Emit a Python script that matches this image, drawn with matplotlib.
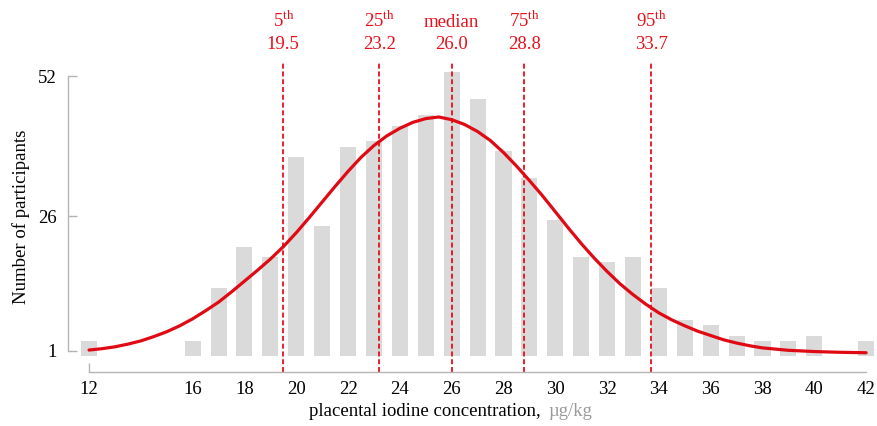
import numpy as np
import matplotlib
matplotlib.use("Agg")
import matplotlib.pyplot as plt

plt.rcParams['font.family'] = ['Liberation Serif', 'DejaVu Serif']
plt.rcParams['mathtext.fontset'] = 'custom'
plt.rcParams['mathtext.rm'] = 'Liberation Serif'
plt.rcParams['lines.scale_dashes'] = False

# histogram of placental iodine (µg/kg), counts
binCenters = [12, 16, 17, 18, 19, 20, 21, 22, 23, 24, 25, 26, 27, 28, 29,
              30, 31, 32, 33, 34, 35, 36, 37, 38, 39, 40, 42]
counts = [2.8, 2.8, 12.6, 20.3, 18.3, 37.0, 24.2, 38.9, 40.0, 42.8, 44.8, 52.7, 47.8, 38.0, 33.0,
          25.3, 18.3, 17.4, 18.3, 12.6, 6.7, 5.8, 3.7, 2.8, 2.8, 3.7, 2.8]

# fitted curve
curveX = [12, 12.5, 13, 13.5, 14, 14.5, 15, 15.5, 16, 16.5, 17, 17.5, 18, 18.5, 19, 19.5, 20,
          20.5, 21, 21.5, 22, 22.5, 23, 23.5, 24, 24.5, 25, 25.5, 26, 26.5, 27, 27.5, 28, 28.5,
          29, 29.5, 30, 30.5, 31, 31.5, 32, 32.5, 33, 33.5, 34, 34.5, 35, 35.5, 36, 36.5, 37,
          37.5, 38, 39, 40, 41, 42]
curveY = [1.1, 1.35, 1.7, 2.2, 2.8, 3.6, 4.5, 5.6, 6.9, 8.4, 10.0, 11.9, 13.9, 15.9, 18.0, 20.3, 22.9,
          25.7, 28.6, 31.5, 34.3, 36.9, 39.1, 40.9, 42.3, 43.4, 44.1, 44.4, 43.9, 43.0, 41.7, 40.0, 37.8, 35.3,
          32.6, 29.8, 26.8, 23.8, 20.9, 18.2, 15.7, 13.4, 11.4, 9.6, 8.0, 6.7, 5.6, 4.6, 3.8, 3.0, 2.4,
          1.9, 1.5, 1.05, 0.82, 0.68, 0.6]

pctNames = ["5", "25", "median", "75", "95"]
pctValues = [19.5, 23.2, 26.0, 28.8, 33.7]

xTicks = [12, 16, 18, 20, 22, 24, 26, 28, 30, 32, 34, 36, 38, 40, 42]
yTicks = [1, 26, 52]

red = '#e8101a'
grey = '#b4b4b4'

fig = plt.figure(figsize=(8.77, 4.26), dpi=100)
ax = fig.add_axes([0.0779, 0.1265, 0.9215, 0.7303])

ax.bar(binCenters, counts, width=0.62, color='#dadada', zorder=1)
ax.plot(curveX, curveY, color='#e00a14', linewidth=2.3, solid_capstyle='round',
        solid_joinstyle='round', zorder=3)

ax.vlines(pctValues, -3, 54.8, colors=red, linewidth=1.3, linestyles=(0, (3.6, 2.0)), zorder=2)
for name, value in zip(pctNames, pctValues):
    top = name if name == "median" else name + r"$^{\rm th}$"
    ax.text(value, 61.2, top, color=red, fontsize=13.5, ha='center', va='baseline', clip_on=False)
    ax.text(value, 57.1, f"{value:.1f}", color=red, fontsize=13.5, ha='center', va='baseline',
            clip_on=False)

ax.set_xlim(11.2, 42.4)
ax.set_ylim(-3, 54.8)

for side in ['top', 'right']:
    ax.spines[side].set_visible(False)
ax.spines['left'].set_bounds(1, 52)
ax.spines['bottom'].set_bounds(12, 42)
ax.spines['left'].set_color(grey)
ax.spines['bottom'].set_color(grey)
ax.spines['left'].set_linewidth(1.0)
ax.spines['bottom'].set_linewidth(1.0)
ax.vlines(12, -3, -1.3, colors=grey, linewidth=1.0, clip_on=False)

ax.set_xticks(xTicks)
ax.set_xticklabels([str(t) for t in xTicks])
ax.set_yticks(yTicks)
ax.set_yticklabels([str(t) for t in yTicks])
ax.tick_params(axis='x', length=0, pad=6.5, labelsize=13.5)
ax.tick_params(axis='y', direction='in', length=6.5, width=1.0, color=grey, pad=8.6, labelsize=13.5)

fig.text(21 / 877, 1 - 217 / 426, "Number of participants", rotation=90, fontsize=13.5,
         ha='center', va='center')
fig.text(541 / 877, 1 - 412 / 426, "placental iodine concentration,", fontsize=13.5,
         ha='right', va='center')
fig.text(548 / 877, 1 - 412 / 426, "µg/kg", fontsize=13.5, color='#9a9a9a',
         ha='left', va='center')

fig.savefig("out.png", dpi=100)
